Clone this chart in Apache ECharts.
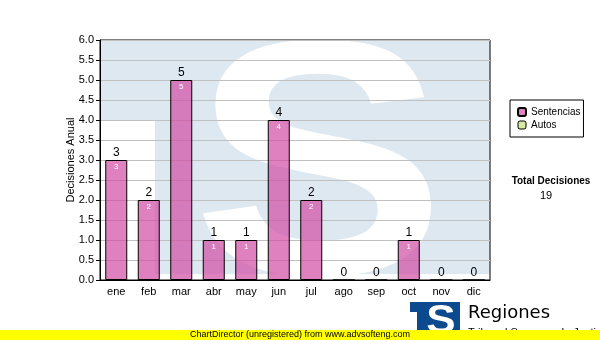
<!DOCTYPE html>
<html><head><meta charset="utf-8">
<script src="https://cdn.jsdelivr.net/npm/echarts@6/dist/echarts.min.js"></script>
<style>html,body{margin:0;padding:0;background:#fff}#c{width:600px;height:340px}</style>
</head><body><div id="c"></div>
<script>
var months = ['ene','feb','mar','abr','may','jun','jul','ago','sep','oct','nov','dic'];
var sentencias = [3,2,5,1,1,4,2,0,0,1,0,0];
var autos = [0,0,0,0,0,0,0,0,0,0,0,0];
var yTicks = {min:0, max:6, interval:0.5};
var totalLabel = 'Total Decisiones';

var totals = sentencias.map(function(v,i){return v + autos[i];});
var grandTotal = totals.reduce(function(a,b){return a+b;},0);
var FONT = '"Liberation Sans", Arial, sans-serif';
var chart = echarts.init(document.getElementById('c'), null, {renderer:'canvas'});
chart.setOption({
  animation:false,
  backgroundColor:'#fff',
  textStyle:{fontFamily:FONT},
  grid:{left:100, top:40, width:390, height:240, show:true, borderColor:'#000', borderWidth:1, backgroundColor:'transparent'},
  legend:{
    data:[{name:'Sentencias'}, {name:'Autos', itemStyle:{borderColor:'#000', borderWidth:1}}],
    orient:'vertical', left:510, top:100,
    padding:[7,3,7,7], itemGap:3, itemWidth:8, itemHeight:8,
    borderColor:'#000', borderWidth:1, borderRadius:0, backgroundColor:'#fff',
    textStyle:{fontSize:10, color:'#000', fontFamily:FONT}, selectedMode:false
  },
  xAxis:{
    type:'category', data:months,
    axisLine:{lineStyle:{color:'#000', width:1}},
    axisTick:{alignWithLabel:true, length:4, lineStyle:{color:'#000'}},
    axisLabel:{fontSize:11, color:'#000', margin:6, fontFamily:FONT},
    splitLine:{show:false}
  },
  yAxis:{
    type:'value', min:yTicks.min, max:yTicks.max, interval:yTicks.interval,
    name:'Decisiones Anual', nameLocation:'middle', nameGap:24, nameMoveOverlap:false,
    nameTextStyle:{fontSize:11, color:'#000', fontFamily:FONT},
    axisLine:{show:true, lineStyle:{color:'#000', width:1}},
    axisTick:{show:true, length:4, lineStyle:{color:'#000'}},
    axisLabel:{fontSize:11, color:'#000', margin:6, fontFamily:FONT, formatter:function(v){return v.toFixed(1);}},
    splitLine:{show:true, lineStyle:{color:'#c0c0c0', width:1}}
  },
  series:[
    {name:'Sentencias', type:'bar', stack:'s', data:sentencias, barWidth:22, barGap:'-100%',
     itemStyle:{color:'rgba(210,76,164,0.7)', borderColor:'#000', borderWidth:1},
     label:{show:true, position:'insideTop', distance:3, fontSize:8, color:'#fff', fontFamily:FONT,
       formatter:function(p){return p.value ? String(p.value) : '';}}},
    {name:'Autos', type:'bar', stack:'s', data:autos, barWidth:22, barGap:'-100%',
     itemStyle:{color:'#d6eaa4', borderColor:'#000', borderWidth:0}},
    {name:'total', type:'bar', stack:'t', data:totals, barWidth:22, barGap:'-100%', silent:true,
     itemStyle:{color:'rgba(0,0,0,0)'},
     label:{show:true, position:'top', distance:1, fontSize:12, color:'#000', fontFamily:FONT}}
  ],
  graphic:[
    {type:'rect', z:-1, shape:{x:100, y:40, width:390, height:234}, style:{fill:'#dee8f1'}},
    {type:'rect', z:-1, shape:{x:100, y:120, width:55, height:160}, style:{fill:'#fff'}},
    {type:'text', z:-1, x:319, y:181, scaleX:1.17, scaleY:1.03,
     style:{text:'S', x:0, y:0, font:'bold 325px "Liberation Sans"', fill:'#fff', textAlign:'center', textVerticalAlign:'middle'}},
    {type:'text', z:10, x:551, y:181,
     style:{text:totalLabel, font:'bold 10px "Liberation Sans"', fill:'#000', textAlign:'center', textVerticalAlign:'middle'}},
    {type:'text', z:10, x:546, y:196,
     style:{text:String(grandTotal), font:'11px "Liberation Sans"', fill:'#000', textAlign:'center', textVerticalAlign:'middle'}},
    {type:'rect', z:20, shape:{x:410, y:302, width:50, height:38}, style:{fill:'#0b4a8e'}},
    {type:'rect', z:21, shape:{x:410, y:312, width:7, height:28}, style:{fill:'#fff'}},
    {type:'text', z:22, x:441, y:322, scaleX:1.1,
     style:{text:'S', x:0, y:0, font:'bold 40px "Liberation Sans"', fill:'#fff', textAlign:'center', textVerticalAlign:'middle'}},
    {type:'text', z:20, x:468, y:313,
     style:{text:'Regiones', font:'18px "DejaVu Sans"', fill:'#000', textAlign:'left', textVerticalAlign:'middle'}},
    {type:'text', z:20, x:468, y:333,
     style:{text:'Tribunal Supremo de Justicia', font:'11px "Liberation Sans"', fill:'#000', textAlign:'left', textVerticalAlign:'middle'}},
    {type:'rect', z:30, shape:{x:0, y:330, width:600, height:10}, style:{fill:'#ffff00'}},
    {type:'text', z:31, x:190, y:335,
     style:{text:'ChartDirector (unregistered) from www.advsofteng.com', font:'9px "Liberation Sans"', fill:'#000', textAlign:'left', textVerticalAlign:'middle'}}
  ]
});
</script></body></html>
